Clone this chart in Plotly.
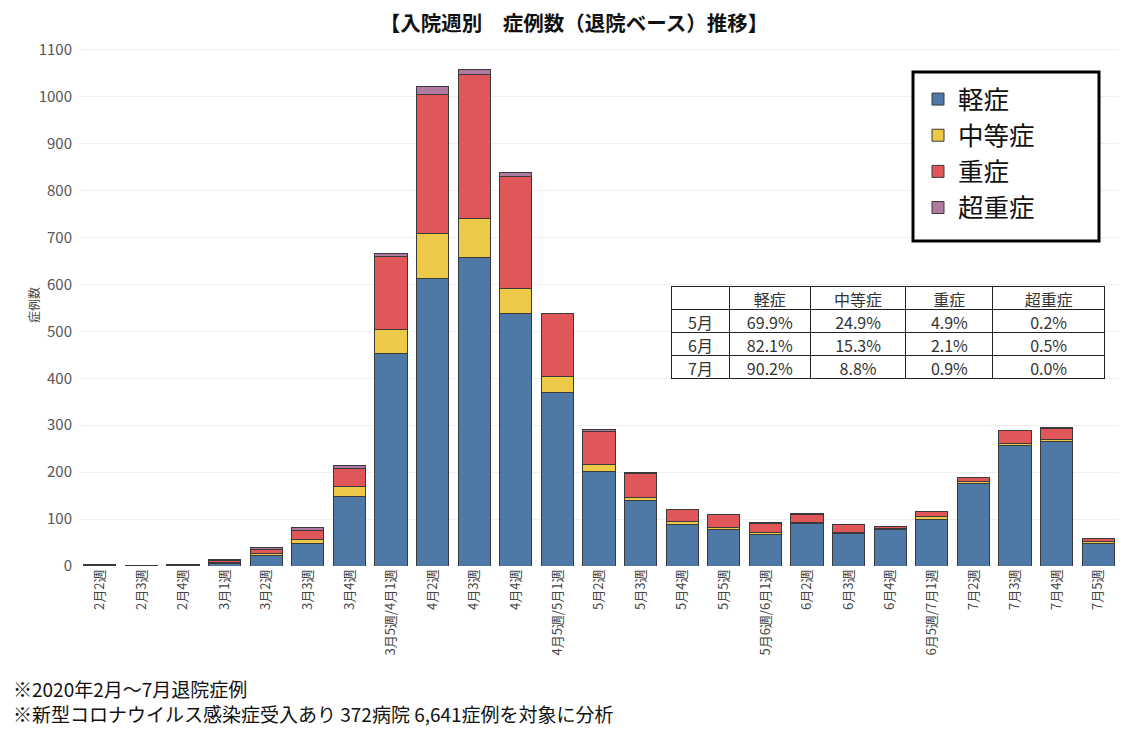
import plotly.graph_objects as go

categories = ["2月2週", "2月3週", "2月4週", "3月1週", "3月2週", "3月3週", "3月4週",
              "3月5週/4月1週", "4月2週", "4月3週", "4月4週", "4月5週/5月1週",
              "5月2週", "5月3週", "5月4週", "5月5週", "5月6週/6月1週", "6月2週",
              "6月3週", "6月4週", "6月5週/7月1週", "7月2週", "7月3週", "7月4週", "7月5週"]

mild = [2, 1, 2, 5, 22, 49, 149, 453, 613, 658, 537, 370, 201, 139, 89, 77, 68, 90, 69, 77, 100, 175, 257, 265, 49]
moderate = [1, 0, 1, 2, 4, 8, 21, 50, 96, 82, 55, 34, 15, 7, 5, 5, 4, 2, 3, 2, 5, 4, 5, 4, 3]
severe = [1, 1, 1, 5, 10, 19, 38, 156, 296, 308, 238, 135, 71, 51, 26, 28, 19, 18, 16, 5, 11, 9, 26, 25, 7]
critical = [0, 0, 0, 1, 3, 5, 6, 6, 16, 9, 9, 0, 3, 3, 1, 0, 1, 1, 1, 1, 0, 0, 0, 1, 0]

series_names = ["軽症", "中等症", "重症", "超重症"]
series_colors = ["#4E79A7", "#EDC948", "#E15759", "#B07AA1"]

table_header = ["", "軽症", "中等症", "重症", "超重症"]
table_months = ["5月", "6月", "7月"]
table_mild = ["69.9%", "82.1%", "90.2%"]
table_moderate = ["24.9%", "15.3%", "8.8%"]
table_severe = ["4.9%", "2.1%", "0.9%"]
table_critical = ["0.2%", "0.5%", "0.0%"]

title_text = "【入院週別　症例数（退院ベース）推移】"
y_title = "症例数"
notes = ["※2020年2月～7月退院症例",
         "※新型コロナウイルス感染症受入あり 372病院 6,641症例を対象に分析"]

FONT = "Noto Sans CJK JP, Noto Sans, sans-serif"

# the page body has an 8px margin: screen = figure + 8
OFF = 8
W, H = 1132 - OFF, 730 - OFF
# plot area on screen: x 79..1119, y 45..566
ML, MR, MT, MB = 79 - OFF, W - (1119 - OFF), 45 - OFF, H - (566 - OFF)
PW = W - ML - MR
PH = H - MT - MB


def px_x(x):
    return (x - OFF - ML) / PW


def px_y(y):
    return (H - MB - (y - OFF)) / PH


fig = go.Figure()
for name, vals, col in zip(series_names, [mild, moderate, severe, critical], series_colors):
    fig.add_trace(go.Bar(
        x=categories, y=vals, name=name,
        marker=dict(color=col, line=dict(color="#3a3a3a", width=1)),
    ))

fig.add_trace(go.Table(
    domain=dict(x=[px_x(671.5), px_x(1105)], y=[px_y(386), px_y(286)]),
    columnwidth=[58, 81, 96, 87, 112],
    header=dict(values=table_header, height=23, align="center",
                fill_color="white", line=dict(color="#222", width=1),
                font=dict(family=FONT, size=16, color="#333")),
    cells=dict(values=[table_months, table_mild, table_moderate, table_severe, table_critical],
               height=23, align="center",
               fill_color="white", line=dict(color="#222", width=1),
               font=dict(family=FONT, size=16, color="#333")),
))

fig.add_shape(type="rect", xref="paper", yref="paper",
              x0=px_x(913), x1=px_x(1099), y0=px_y(241), y1=px_y(72),
              line=dict(color="black", width=3), fillcolor="white", layer="above")

fig.add_annotation(text="<br>".join(notes), xref="paper", yref="paper",
                   x=px_x(11), y=px_y(700.5), xanchor="left", yanchor="middle", align="left",
                   showarrow=False, font=dict(family=FONT, size=19, color="#111"))

fig.add_annotation(text=y_title, xref="paper", yref="paper", textangle=-90,
                   x=px_x(33), y=px_y(305), xanchor="center", yanchor="middle",
                   showarrow=False, font=dict(family=FONT, size=12, color="#444"))

fig.update_layout(
    width=W, height=H,
    margin=dict(l=ML, r=MR, t=MT, b=MB, autoexpand=False),
    barmode="stack", bargap=0.23,
    plot_bgcolor="white", paper_bgcolor="white",
    font=dict(family=FONT, color="#333"),
    title=dict(text="<b>" + title_text + "</b>", x=(574 - OFF) / W, xanchor="center",
               y=1 - (24 - OFF) / H, yanchor="middle",
               font=dict(family=FONT, size=20.5, color="#111")),
    legend=dict(x=px_x(918), y=px_y(76), xanchor="left", yanchor="top",
                bgcolor="rgba(0,0,0,0)", borderwidth=0,
                font=dict(family=FONT, size=25.5, color="#111"), traceorder="normal"),
    showlegend=True,
)
fig.update_xaxes(tickangle=-90, tickfont=dict(family=FONT, size=13, color="#444"),
                 showgrid=False, showline=False, ticks="", automargin=False)
fig.update_yaxes(range=[0, 1110], tickvals=list(range(0, 1101, 100)),
                 tickfont=dict(family=FONT, size=15, color="#555"),
                 gridcolor="#EFEFEF", gridwidth=1, zeroline=False, showline=False,
                 automargin=False, ticklabelstandoff=6)

fig.write_html("out.html")
